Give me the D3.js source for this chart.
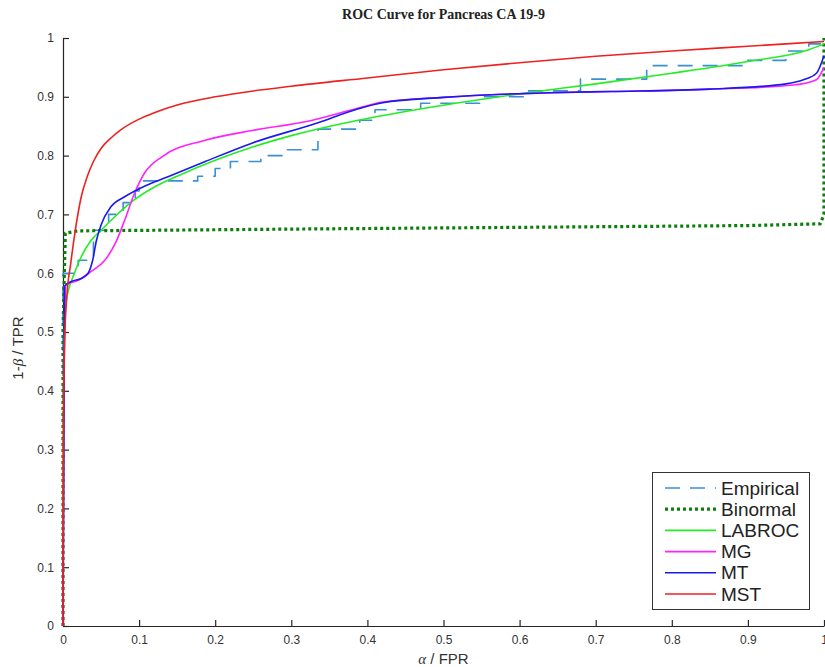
<!DOCTYPE html>
<html lang="en">
<head>
<meta charset="UTF-8">
<title>ROC Curve for Pancreas CA 19-9</title>
<script src="https://d3js.org/d3.v7.min.js"></script>
<style>
  body { margin: 0; background: white; }
  svg { display: block; }
</style>
</head>
<body>
<div id="chart"></div>
<script>
// ---- data ----
var ticks = [0, 0.1, 0.2, 0.3, 0.4, 0.5, 0.6, 0.7, 0.8, 0.9, 1];
var tickLabels = ["0", "0.1", "0.2", "0.3", "0.4", "0.5", "0.6", "0.7", "0.8", "0.9", "1"];
var seriesNames = ["Empirical", "Binormal", "LABROC", "MG", "MT", "MST"];

// empirical ROC (step points: x where tpr jumps, new tpr)
var empFpr = [0, 0, 0.02, 0.04, 0.06, 0.079, 0.095, 0.1, 0.177, 0.2, 0.22, 0.26, 0.295, 0.335, 0.39, 0.41, 0.47, 0.55, 0.61, 0.68, 0.767, 0.9, 0.95, 0.98, 1];
var empTpr = [0, 0.60, 0.622, 0.673, 0.70, 0.72, 0.74, 0.757, 0.765, 0.778, 0.79, 0.80, 0.81, 0.845, 0.86, 0.878, 0.889, 0.90, 0.91, 0.93, 0.953, 0.962, 0.978, 0.99, 1.0];

var binFpr = [0, 0, 0.003, 0.02, 0.3, 0.6, 0.9, 0.995, 1, 1];
var binTpr = [0, 0.5, 0.668, 0.672, 0.675, 0.678, 0.681, 0.684, 0.70, 1.0];

var labFpr = [0, 0.001, 0.004, 0.015, 0.024, 0.037, 0.05, 0.068, 0.094, 0.125, 0.15, 0.2, 0.25, 0.3, 0.38, 0.45, 0.52, 0.6, 0.7, 0.8, 0.9, 0.98, 1];
var labTpr = [0, 0.45, 0.55, 0.60, 0.628, 0.656, 0.673, 0.696, 0.725, 0.75, 0.765, 0.792, 0.815, 0.834, 0.858, 0.875, 0.89, 0.905, 0.922, 0.94, 0.96, 0.98, 0.99];

var mgFpr = [0, 0.001, 0.004, 0.02, 0.037, 0.055, 0.07, 0.081, 0.094, 0.107, 0.13, 0.187, 0.25, 0.32, 0.386, 0.42, 0.5, 0.64, 0.72, 0.85, 0.96, 0.99, 1];
var mgTpr = [0, 0.35, 0.58, 0.588, 0.603, 0.622, 0.654, 0.69, 0.736, 0.77, 0.798, 0.826, 0.843, 0.858, 0.88, 0.891, 0.899, 0.907, 0.909, 0.913, 0.92, 0.929, 0.95];

var mtFpr = [0, 0.001, 0.002, 0.011, 0.024, 0.033, 0.039, 0.044, 0.05, 0.063, 0.081, 0.107, 0.138, 0.187, 0.25, 0.333, 0.386, 0.42, 0.5, 0.64, 0.72, 0.85, 0.95, 0.973, 0.99, 1];
var mtTpr = [0, 0.3, 0.578, 0.586, 0.591, 0.60, 0.622, 0.656, 0.682, 0.713, 0.73, 0.748, 0.764, 0.79, 0.822, 0.855, 0.879, 0.89, 0.899, 0.907, 0.909, 0.913, 0.922, 0.929, 0.94, 0.97];

var mstFpr = [0, 0.0005, 0.002, 0.005, 0.01, 0.017, 0.024, 0.032, 0.04, 0.05, 0.063, 0.075, 0.1, 0.12, 0.15, 0.2, 0.25, 0.3, 0.4, 0.5, 0.6, 0.7, 0.8, 0.9, 1];
var mstTpr = [0, 0.3, 0.48, 0.56, 0.615, 0.68, 0.73, 0.765, 0.79, 0.812, 0.83, 0.843, 0.862, 0.873, 0.886, 0.9, 0.91, 0.918, 0.932, 0.946, 0.958, 0.969, 0.978, 0.986, 0.994];

// ---- layout ----
var W = 825, H = 667;
var plotL = 63, plotR = 824, plotT = 38, plotB = 626;

var svg = d3.select("#chart").append("svg")
  .attr("width", W)
  .attr("height", H)
  .style("font-family", "'Liberation Sans', Arial, sans-serif");

var x = d3.scaleLinear().domain([0, 1]).range([plotL, plotR]);
var y = d3.scaleLinear().domain([0, 1]).range([plotB, plotT]);

// axes (MATLAB style: ticks pointing in, no box)
var xAxis = d3.axisBottom(x).tickValues(ticks)
  .tickFormat(function(d, i) { return tickLabels[i]; })
  .tickSizeInner(-6).tickSizeOuter(0).tickPadding(9);
var yAxis = d3.axisLeft(y).tickValues(ticks)
  .tickFormat(function(d, i) { return tickLabels[i]; })
  .tickSizeInner(-6).tickSizeOuter(0).tickPadding(9);

var gx = svg.append("g").attr("transform", "translate(0," + plotB + ")").call(xAxis);
var gy = svg.append("g").attr("transform", "translate(" + plotL + ",0)").call(yAxis);
[gx, gy].forEach(function(g) {
  g.select(".domain").attr("stroke", "#262626").attr("stroke-width", 1.2);
  g.selectAll(".tick line").attr("stroke", "#262626").attr("stroke-width", 1.2);
  g.selectAll(".tick text").attr("fill", "#333").style("font-size", "12px")
    .style("font-family", "'Liberation Sans', Arial, sans-serif");
});

// curves
function pts(xs, ys) { return xs.map(function(v, i) { return [v, ys[i]]; }); }
var line = d3.line().x(function(d) { return x(d[0]); }).y(function(d) { return y(d[1]); });
var stepLine = d3.line().x(function(d) { return x(d[0]); }).y(function(d) { return y(d[1]); }).curve(d3.curveStepAfter);
var smooth = d3.line().x(function(d) { return x(d[0]); }).y(function(d) { return y(d[1]); }).curve(d3.curveMonotoneX);

var styles = [
  { color: "#3a8fd6", width: 1.6, dash: "15,10" },
  { color: "#0a7f0a", width: 3.2, dash: "3,3" },
  { color: "#22ee22", width: 1.6, dash: null },
  { color: "#ff22ff", width: 1.6, dash: null },
  { color: "#1a1aee", width: 1.6, dash: null },
  { color: "#ee2020", width: 1.6, dash: null }
];

var curves = [
  stepLine(pts(empFpr, empTpr)),
  line(pts(binFpr, binTpr)),
  smooth(pts(labFpr, labTpr)),
  smooth(pts(mgFpr, mgTpr)),
  smooth(pts(mtFpr, mtTpr)),
  smooth(pts(mstFpr, mstTpr))
];

curves.forEach(function(p, i) {
  svg.append("path")
    .attr("d", p)
    .attr("fill", "none")
    .attr("stroke", styles[i].color)
    .attr("stroke-width", styles[i].width)
    .attr("stroke-dasharray", styles[i].dash)
    .attr("stroke-linejoin", "round");
});

// title and axis labels
svg.append("text")
  .attr("x", (plotL + plotR) / 2).attr("y", 19)
  .attr("text-anchor", "middle")
  .style("font-family", "'Liberation Serif', 'DejaVu Serif', serif")
  .style("font-size", "14px")
  .style("font-weight", "bold")
  .attr("fill", "#222")
  .text("ROC Curve for Pancreas CA 19-9");

var xl = svg.append("text")
  .attr("x", (plotL + plotR) / 2).attr("y", 664)
  .attr("text-anchor", "middle")
  .style("font-size", "15px")
  .attr("fill", "#333");
xl.append("tspan").style("font-family", "'Liberation Serif', serif").style("font-style", "italic").text("α");
xl.append("tspan").text(" / FPR");

var yl = svg.append("text")
  .attr("transform", "translate(23,348) rotate(-90)")
  .attr("text-anchor", "middle")
  .style("font-size", "15px")
  .attr("fill", "#333");
yl.append("tspan").text("1-");
yl.append("tspan").style("font-family", "'Liberation Serif', serif").style("font-style", "italic").text("β");
yl.append("tspan").text(" / TPR");

// legend
var lg = svg.append("g");
lg.append("rect")
  .attr("x", 652.5).attr("y", 472.5)
  .attr("width", 157).attr("height", 137)
  .attr("fill", "white")
  .attr("stroke", "#333").attr("stroke-width", 1);

seriesNames.forEach(function(name, i) {
  var yy = 488 + i * 21.2;
  lg.append("line")
    .attr("x1", 665).attr("x2", 716)
    .attr("y1", yy).attr("y2", yy)
    .attr("stroke", styles[i].color)
    .attr("stroke-width", styles[i].width)
    .attr("stroke-dasharray", styles[i].dash);
  lg.append("text")
    .attr("x", 721).attr("y", yy)
    .attr("dy", "0.35em")
    .style("font-size", "19px")
    .attr("fill", "#222")
    .text(name);
});
</script>
</body>
</html>
